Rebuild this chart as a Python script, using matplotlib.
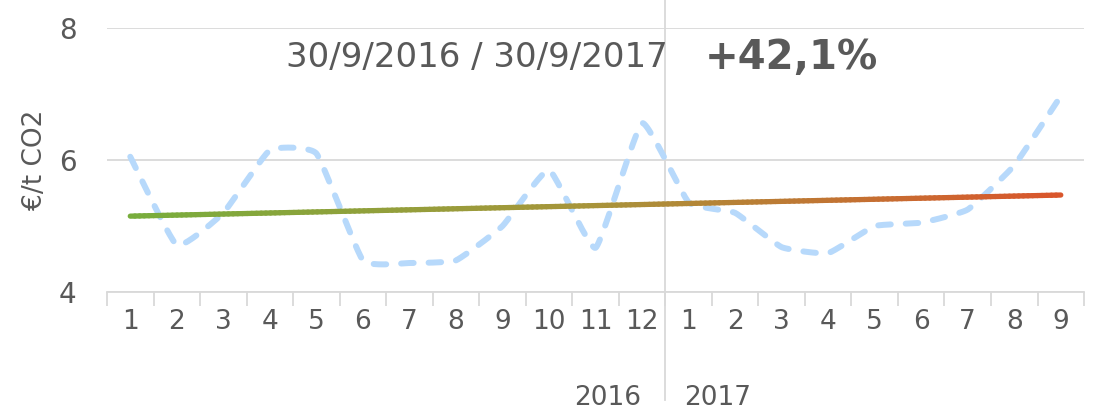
import matplotlib
matplotlib.use("Agg")
import matplotlib.pyplot as plt
import numpy as np
from matplotlib.collections import LineCollection
from matplotlib.colors import LinearSegmentedColormap

# data
months = ["1", "2", "3", "4", "5", "6", "7", "8", "9", "10", "11", "12",
          "1", "2", "3", "4", "5", "6", "7", "8", "9"]
years = ["2016", "2017"]
price = [6.05, 4.71, 5.20, 6.15, 6.10, 4.48, 4.44, 4.48, 5.00, 5.85, 4.67, 6.56,
         5.36, 5.20, 4.68, 4.59, 5.00, 5.05, 5.25, 5.92, 6.97]
trend_ends = [5.15, 5.47]
period_label = "30/9/2016 / 30/9/2017"
change_label = "+42,1%"

text_col = "#595959"
grid_col = "#d9d9d9"

fig = plt.figure(figsize=(11.17, 4.16), dpi=100)
ax = fig.add_axes([0.0958, 0.298, 0.8747, 0.6345])

x = np.arange(len(price))
y = np.array(price, dtype=float)
n = len(x)

# lightly smoothed curve through the points (cubic Bezier per segment)
k = 0.065
t = np.linspace(0, 1, 25)[:, None]
curve = []
for i in range(n - 1):
    p0 = np.array([x[max(i - 1, 0)], y[max(i - 1, 0)]])
    p1 = np.array([x[i], y[i]])
    p2 = np.array([x[i + 1], y[i + 1]])
    p3 = np.array([x[min(i + 2, n - 1)], y[min(i + 2, n - 1)]])
    c1 = p1 + (p2 - p0) * k
    c2 = p2 - (p3 - p1) * k
    seg = ((1 - t) ** 3) * p1 + 3 * ((1 - t) ** 2) * t * c1 + 3 * (1 - t) * t ** 2 * c2 + t ** 3 * p2
    curve.append(seg if i == 0 else seg[1:])
curve = np.vstack(curve)
ax.plot(curve[:, 0], curve[:, 1], color="#b7d9fb", lw=4.3, dashes=(2.1, 2.5),
        dash_capstyle="round", solid_joinstyle="round", zorder=3)

# trend line with green -> orange gradient
tx = np.linspace(x[0], x[-1], 200)
ty = np.linspace(trend_ends[0], trend_ends[1], 200)
pts = np.column_stack([tx, ty]).reshape(-1, 1, 2)
segs = np.concatenate([pts[:-1], pts[1:]], axis=1)
cmap = LinearSegmentedColormap.from_list("tr", ["#78ad3c", "#a8943a", "#d9562c"])
lc = LineCollection(segs, cmap=cmap, linewidths=3.8, capstyle="round", zorder=4)
lc.set_array(np.linspace(0, 1, len(segs)))
ax.add_collection(lc)

ax.set_xlim(-0.5, n - 0.5)
ax.set_ylim(4, 8)
ax.set_yticks([4, 6, 8])
ax.yaxis.grid(True, color=grid_col, lw=1.3)
ax.set_axisbelow(True)
for s in ["top", "right", "left"]:
    ax.spines[s].set_visible(False)
ax.spines["bottom"].set_color(grid_col)
ax.spines["bottom"].set_linewidth(1.3)

ax.set_xticks(x)
ax.set_xticklabels(months)
ax.set_xticks(np.arange(-0.5, n, 1), minor=True)
ax.tick_params(axis="x", which="major", length=0, pad=12, labelsize=19, labelcolor=text_col)
ax.tick_params(axis="x", which="minor", length=10, width=1.3, color=grid_col)
ax.tick_params(axis="y", length=0, pad=22, labelsize=20, labelcolor=text_col)
ax.set_ylabel("€/t CO2", fontsize=19, color=text_col, labelpad=8)

# year separator
ax.plot([11.5, 11.5], [-0.41, 1.106], transform=ax.get_xaxis_transform(),
        color=grid_col, lw=1.3, clip_on=False, zorder=1)
ax.text(10.27, -0.40, years[0], transform=ax.get_xaxis_transform(),
        ha="center", va="center", fontsize=19, color=text_col)
ax.text(12.63, -0.40, years[1], transform=ax.get_xaxis_transform(),
        ha="center", va="center", fontsize=19, color=text_col)

ax.text(7.45, 7.55, period_label, ha="center", va="center", fontsize=24.5, color=text_col)
ax.text(14.22, 7.55, change_label, ha="center", va="center", fontsize=29,
        fontweight="bold", color=text_col)

fig.savefig("out.png", dpi=100)
